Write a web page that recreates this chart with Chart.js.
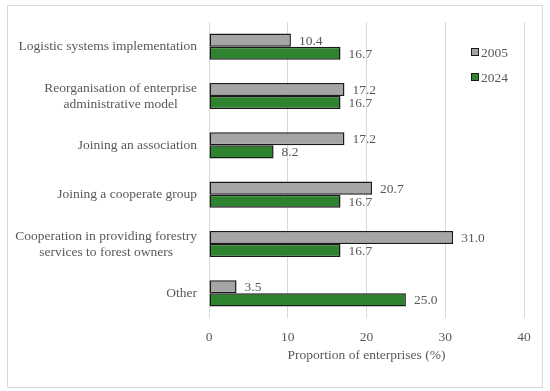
<!DOCTYPE html>
<html><head><meta charset="utf-8">
<script src="https://cdn.jsdelivr.net/npm/chart.js@4/dist/chart.umd.min.js"></script>
<style>html,body{margin:0;padding:0;background:#fff}#wrap{position:relative;width:550px;height:391px}</style>
</head><body><div id="wrap"><canvas id="c" width="550" height="391"></canvas></div>
<script>
const categories = [
  ["Logistic systems implementation"],
  ["Reorganisation of enterprise", "administrative model"],
  ["Joining an association"],
  ["Joining a cooperate group"],
  ["Cooperation in providing forestry", "services to forest owners"],
  ["Other"]
];
const seriesNames = ["2005", "2024"];
const values2005 = [10.4, 17.2, 17.2, 20.7, 31.0, 3.5];
const values2024 = [16.7, 16.7, 8.2, 16.7, 16.7, 25.0];
const xTicks = [0, 10, 20, 30, 40];

const FONT = "'Liberation Serif', 'DejaVu Serif', serif";
const TXT = '#595959';
const colors = ['#A5A5A5', '#2E832E'];

const framePlugin = {
  id: 'frame',
  beforeDraw(chart) {
    const ctx = chart.ctx;
    ctx.save();
    ctx.fillStyle = '#fff';
    ctx.fillRect(0, 0, chart.width, chart.height);
    ctx.strokeStyle = '#D9D9D9';
    ctx.lineWidth = 1;
    ctx.strokeRect(7.5, 5.5, 535, 382);
    ctx.restore();
  }
};

const yLabelPlugin = {
  id: 'ylabels',
  afterDraw(chart) {
    const ctx = chart.ctx;
    const y = chart.scales.y;
    ctx.save();
    ctx.font = "13.5px " + FONT;
    ctx.fillStyle = TXT;
    ctx.textAlign = 'center';
    ctx.textBaseline = 'middle';
    const right = 197;
    const lh = 16;
    categories.forEach((lines, i) => {
      const cy = y.getPixelForValue(i);
      const w = Math.max(...lines.map(l => ctx.measureText(l).width));
      const cx = right - w / 2;
      const y0 = cy - (lines.length - 1) * lh / 2;
      lines.forEach((l, j) => ctx.fillText(l, cx, y0 + j * lh));
    });
    ctx.restore();
  }
};

const valueLabelPlugin = {
  id: 'vlabels',
  afterDatasetsDraw(chart) {
    const ctx = chart.ctx;
    ctx.save();
    ctx.font = "13.5px " + FONT;
    ctx.fillStyle = TXT;
    ctx.textAlign = 'left';
    ctx.textBaseline = 'middle';
    chart.data.datasets.forEach((ds, di) => {
      const meta = chart.getDatasetMeta(di);
      meta.data.forEach((bar, i) => {
        ctx.fillText(ds.data[i].toFixed(1), bar.x + 8, bar.y + 1);
      });
    });
    ctx.restore();
  }
};

const legendPlugin = {
  id: 'customLegend',
  afterDraw(chart) {
    const ctx = chart.ctx;
    ctx.save();
    ctx.font = "13.5px " + FONT;
    ctx.textBaseline = 'middle';
    ctx.textAlign = 'left';
    const ys = [52, 77];
    seriesNames.forEach((n, i) => {
      ctx.fillStyle = colors[i];
      ctx.fillRect(471, ys[i] - 4, 8, 8);
      ctx.strokeStyle = '#1a1a1a';
      ctx.lineWidth = 1;
      ctx.strokeRect(471.5, ys[i] - 3.5, 7, 7);
      ctx.fillStyle = TXT;
      ctx.fillText(n, 481, ys[i] + 1);
    });
    ctx.restore();
  }
};

new Chart(document.getElementById('c'), {
  type: 'bar',
  data: {
    labels: categories.map(c => c.join(' ')),
    datasets: [
      { label: seriesNames[0], data: values2005, backgroundColor: colors[0], borderColor: '#1a1a1a', borderWidth: 1.5, borderSkipped: false, categoryPercentage: 0.53, barPercentage: 1 },
      { label: seriesNames[1], data: values2024, backgroundColor: colors[1], borderColor: '#1a1a1a', borderWidth: 1.5, borderSkipped: false, categoryPercentage: 0.53, barPercentage: 1 }
    ]
  },
  options: {
    indexAxis: 'y',
    responsive: false,
    animation: false,
    layout: { padding: { left: 209, right: 26, top: 22, bottom: 0 } },
    plugins: { legend: { display: false }, tooltip: { enabled: false } },
    scales: {
      x: {
        min: 0, max: 40,
        afterBuildTicks(s) { s.ticks = xTicks.map(v => ({ value: v })); },
        afterFit(s) { s.height = 73; },
        grid: { color: '#D9D9D9', lineWidth: 1, drawTicks: false },
        border: { display: false },
        ticks: { color: TXT, font: { family: FONT, size: 13.5 }, padding: 11 },
        title: { display: true, text: 'Proportion of enterprises (%)', color: TXT, font: { family: FONT, size: 13.5 }, padding: { top: 0, bottom: 27 } }
      },
      y: {
        display: true,
        afterFit(s) { s.width = 0; },
        grid: { display: false },
        border: { display: false },
        ticks: { display: false }
      }
    }
  },
  plugins: [framePlugin, yLabelPlugin, valueLabelPlugin, legendPlugin]
});
</script></body></html>
